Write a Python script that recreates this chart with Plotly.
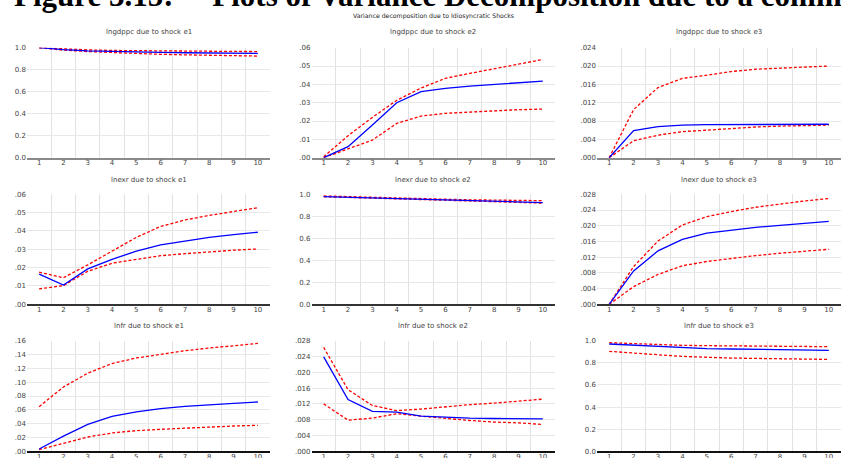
import plotly.graph_objects as go

W, H = 841, 458

periods = [1, 2, 3, 4, 5, 6, 7, 8, 9, 10]

titles = [
    "lngdppc due to shock e1", "lngdppc due to shock e2", "lngdppc due to shock e3",
    "lnexr due to shock e1", "lnexr due to shock e2", "lnexr due to shock e3",
    "lnfr due to shock e1", "lnfr due to shock e2", "lnfr due to shock e3",
]

# point estimates (blue)
gdp_e1 = [1.0, 0.982, 0.972, 0.965, 0.960, 0.957, 0.954, 0.952, 0.950, 0.948]
gdp_e2 = [0.0, 0.0060, 0.0178, 0.0300, 0.0360, 0.0378, 0.0390, 0.0400, 0.0410, 0.0418]
gdp_e3 = [0.0, 0.0059, 0.0068, 0.0071, 0.0072, 0.0072, 0.0072, 0.0072, 0.0072, 0.0073]
exr_e1 = [0.0165, 0.0105, 0.0193, 0.0245, 0.0290, 0.0324, 0.0345, 0.0365, 0.0380, 0.0393]
exr_e2 = [0.979, 0.973, 0.967, 0.960, 0.952, 0.946, 0.940, 0.933, 0.930, 0.925]
exr_e3 = [0.0, 0.0085, 0.0136, 0.0165, 0.0181, 0.0189, 0.0196, 0.0201, 0.0206, 0.0211]
fr_e1 = [0.0034, 0.0220, 0.0390, 0.0506, 0.0569, 0.0617, 0.0650, 0.0675, 0.0694, 0.0713]
fr_e2 = [0.0239, 0.0131, 0.0101, 0.0099, 0.0089, 0.0086, 0.0084, 0.0083, 0.0083, 0.0082]
fr_e3 = [0.970, 0.958, 0.946, 0.934, 0.928, 0.925, 0.922, 0.919, 0.916, 0.913]

# upper bands (red dashed)
gdp_e1_hi = [1.0, 0.988, 0.980, 0.975, 0.972, 0.970, 0.968, 0.967, 0.966, 0.965]
gdp_e2_hi = [0.0005, 0.0120, 0.0220, 0.0313, 0.0380, 0.0433, 0.0460, 0.0487, 0.0510, 0.0536]
gdp_e3_hi = [0.0, 0.0105, 0.0153, 0.0173, 0.0180, 0.0188, 0.0193, 0.0195, 0.0197, 0.0200]
exr_e1_hi = [0.0175, 0.0145, 0.0215, 0.0290, 0.0365, 0.0425, 0.0460, 0.0485, 0.0505, 0.0527]
exr_e2_hi = [0.985, 0.978, 0.972, 0.966, 0.960, 0.955, 0.950, 0.947, 0.944, 0.942]
exr_e3_hi = [0.0, 0.0096, 0.0161, 0.0202, 0.0223, 0.0236, 0.0247, 0.0255, 0.0263, 0.0269]
fr_e1_hi = [0.0646, 0.0930, 0.1130, 0.1270, 0.1350, 0.1400, 0.1455, 0.1494, 0.1530, 0.1560]
fr_e2_hi = [0.0263, 0.0156, 0.0116, 0.0103, 0.0107, 0.0113, 0.0118, 0.0122, 0.0127, 0.0132]
fr_e3_hi = [0.982, 0.973, 0.964, 0.958, 0.955, 0.952, 0.949, 0.949, 0.946, 0.946]

# lower bands (red dashed)
gdp_e1_lo = [1.0, 0.978, 0.965, 0.955, 0.946, 0.940, 0.935, 0.930, 0.927, 0.924]
gdp_e2_lo = [0.0, 0.0047, 0.0096, 0.0187, 0.0227, 0.0242, 0.0250, 0.0255, 0.0262, 0.0265]
gdp_e3_lo = [0.0, 0.0037, 0.0049, 0.0057, 0.0060, 0.0064, 0.0067, 0.0069, 0.0070, 0.0071]
exr_e1_lo = [0.0084, 0.0102, 0.0180, 0.0224, 0.0245, 0.0265, 0.0276, 0.0287, 0.0295, 0.0302]
exr_e2_lo = [0.978, 0.972, 0.965, 0.958, 0.950, 0.943, 0.936, 0.930, 0.925, 0.920]
exr_e3_lo = [0.0, 0.0045, 0.0076, 0.0098, 0.0109, 0.0117, 0.0124, 0.0130, 0.0135, 0.0140]
fr_e1_lo = [0.0024, 0.0120, 0.0207, 0.0265, 0.0299, 0.0318, 0.0337, 0.0357, 0.0366, 0.0376]
fr_e2_lo = [0.0120, 0.0079, 0.0084, 0.0095, 0.0089, 0.0083, 0.0078, 0.0074, 0.0072, 0.0068]
fr_e3_lo = [0.904, 0.886, 0.873, 0.858, 0.849, 0.843, 0.840, 0.837, 0.834, 0.831]

mid = [gdp_e1, gdp_e2, gdp_e3, exr_e1, exr_e2, exr_e3, fr_e1, fr_e2, fr_e3]
hi = [gdp_e1_hi, gdp_e2_hi, gdp_e3_hi, exr_e1_hi, exr_e2_hi, exr_e3_hi, fr_e1_hi, fr_e2_hi, fr_e3_hi]
lo = [gdp_e1_lo, gdp_e2_lo, gdp_e3_lo, exr_e1_lo, exr_e2_lo, exr_e3_lo, fr_e1_lo, fr_e2_lo, fr_e3_lo]

# y tick values and labels per panel
ticks_share = [0.0, 0.2, 0.4, 0.6, 0.8, 1.0]
labels_share = ["0.0", "0.2", "0.4", "0.6", "0.8", "1.0"]
ticks_06 = [0.0, 0.01, 0.02, 0.03, 0.04, 0.05, 0.06]
labels_06 = [".00", ".01", ".02", ".03", ".04", ".05", ".06"]
ticks_024 = [0.0, 0.004, 0.008, 0.012, 0.016, 0.020, 0.024]
labels_024 = [".000", ".004", ".008", ".012", ".016", ".020", ".024"]
ticks_028 = [0.0, 0.004, 0.008, 0.012, 0.016, 0.020, 0.024, 0.028]
labels_028 = [".000", ".004", ".008", ".012", ".016", ".020", ".024", ".028"]
ticks_16 = [0.0, 0.02, 0.04, 0.06, 0.08, 0.10, 0.12, 0.14, 0.16]
labels_16 = [".00", ".02", ".04", ".06", ".08", ".10", ".12", ".14", ".16"]

yticks = [
    (ticks_share, labels_share), (ticks_06, labels_06), (ticks_024, labels_024),
    (ticks_06, labels_06), (ticks_share, labels_share), (ticks_028, labels_028),
    (ticks_16, labels_16), (ticks_028, labels_028), (ticks_share, labels_share),
]

# layout geometry (pixels)
col_px = [(27, 270), (311.5, 555), (597, 841)]
row_px = [(47.7, 157.7), (194.3, 304.3), (340.7, 451.3)]
row_title_px = [32, 180, 326]
axis_line_colors = ["#8a8a8a", "#333333", "#111111"]

fig = go.Figure()
layout = dict(
    width=W, height=H, autosize=False,
    margin=dict(l=0, r=0, t=0, b=0, pad=0, autoexpand=False),
    paper_bgcolor="white", plot_bgcolor="white",
    showlegend=False,
)
annotations = []

tick_font = dict(family="DejaVu Sans", size=7, color="#444444")

for i in range(9):
    r, c = divmod(i, 3)
    n = i + 1
    xa = "x" if n == 1 else f"x{n}"
    ya = "y" if n == 1 else f"y{n}"
    x0, x1 = col_px[c]
    ytop, ybot = row_px[r]
    tv, tt = yticks[i]

    fig.add_trace(go.Scatter(x=periods, y=hi[i], mode="lines", xaxis=xa, yaxis=ya,
                             line=dict(color="#ff0000", width=1.3, dash="3px,2px")))
    fig.add_trace(go.Scatter(x=periods, y=lo[i], mode="lines", xaxis=xa, yaxis=ya,
                             line=dict(color="#ff0000", width=1.3, dash="3px,2px")))
    fig.add_trace(go.Scatter(x=periods, y=mid[i], mode="lines", xaxis=xa, yaxis=ya,
                             line=dict(color="#0000ff", width=1.3)))

    xkey = "xaxis" if n == 1 else f"xaxis{n}"
    ykey = "yaxis" if n == 1 else f"yaxis{n}"
    layout[xkey] = dict(
        domain=[x0 / W, x1 / W], anchor=ya, range=[0.5, 10.5],
        tickmode="array", tickvals=periods, ticktext=[str(p) for p in periods],
        showgrid=False, zeroline=False, ticks="", tickfont=tick_font,
        ticklabelstandoff=-3, automargin=False,
        showline=True, linecolor=axis_line_colors[r], linewidth=2,
        minor=dict(tickmode="array", tickvals=[p + 0.5 for p in periods[:-1]],
                   showgrid=True, gridcolor="#e2e2e2", gridwidth=1.2, ticks=""),
        fixedrange=True,
    )
    layout[ykey] = dict(
        domain=[1 - ybot / H, 1 - ytop / H], anchor=xa, range=[0, tv[-1]],
        tickmode="array", tickvals=tv, ticktext=tt, automargin=False,
        showgrid=True, gridcolor="#e8e8e8", gridwidth=1, zeroline=False,
        ticks="", tickfont=tick_font, showline=False, fixedrange=True,
    )
    annotations.append(dict(
        text=titles[i], xref="paper", yref="paper",
        x=((x0 + x1) / 2) / W, y=1 - row_title_px[r] / H,
        xanchor="center", yanchor="middle", showarrow=False,
        font=dict(family="DejaVu Sans", size=7, color="#444444"),
    ))

annotations.append(dict(
    text="Variance decomposition due to Idiosyncratic Shocks",
    xref="paper", yref="paper", x=433.5 / W, y=1 - 16 / H,
    xanchor="center", yanchor="middle", showarrow=False,
    font=dict(family="DejaVu Sans", size=6.2, color="#222222"),
))
annotations.append(dict(
    text="<b>Figure 3.15:" + "\u00a0" * 5 + "Plots of Variance Decomposition due to a common Shock</b>",
    xref="paper", yref="paper", x=12 / W, y=1 - 15 / H,
    xanchor="left", yanchor="bottom", showarrow=False,
    font=dict(family="Liberation Serif", size=31, color="#000000"),
))
layout["annotations"] = annotations
fig.update_layout(**layout)

fig.write_html("out.html")
